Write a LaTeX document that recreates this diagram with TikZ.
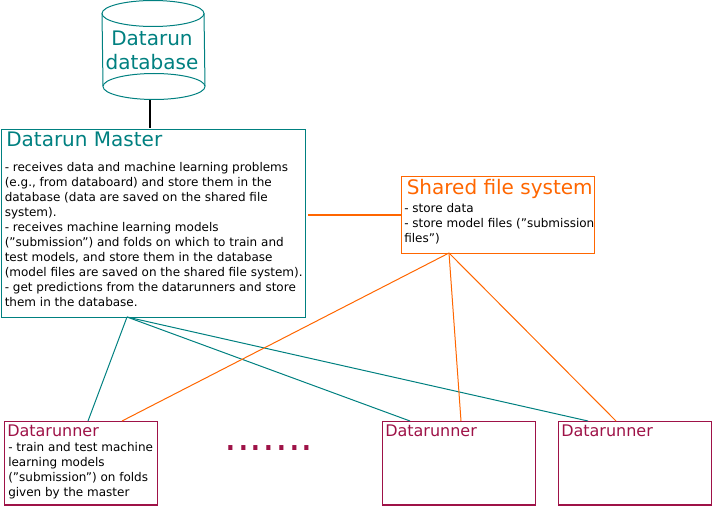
\documentclass[tikz,border=0pt]{standalone}
\usepackage{fontspec}
\setmainfont{DejaVu Sans}
\definecolor{masterteal}{rgb}{0,0.5,0.5}
\definecolor{sharedorange}{rgb}{1,0.4,0}
\definecolor{runnerred}{rgb}{0.62,0.07,0.28}
\tikzset{
  titletext/.style={anchor=north west,inner sep=0.75pt,font=\fontsize{15}{18}\selectfont},
  runnertitle/.style={anchor=north west,inner sep=0.75pt,text=runnerred,font=\fontsize{12}{14}\selectfont},
  bodytext/.style={anchor=north west,inner sep=0.75pt,align=left,font=\fontsize{9}{11.25}\selectfont},
  runnerbox/.style={draw=runnerred,line width=1.1pt,minimum width=114.5pt,minimum height=62.5pt,inner sep=0pt,anchor=north west},
}
\begin{document}
\begin{tikzpicture}[x=0.75pt,y=0.75pt,yscale=-1,xscale=1]
\useasboundingbox (0,0) rectangle (712,506);

%Database
\draw [masterteal,line width=0.75pt] (102,13.5) -- (103,86) (204,13.5) -- (205,86) ;
\draw [masterteal,line width=0.75pt] (153,13.5) ellipse [x radius=51, y radius=13] ;
\draw [masterteal,line width=0.75pt] (154,86.5) ellipse [x radius=51, y radius=13] ;
\node (database) [text=masterteal,align=center,inner sep=0.75pt,font=\fontsize{15}{18.5}\selectfont] at (152,50.5) {Datarun\\database};

%Boxes
\node (master) [draw=masterteal,line width=1.1pt,minimum width=228pt,minimum height=141pt,inner sep=0pt,anchor=north west] at (1,129) {};
\node (shared) [draw=sharedorange,line width=0.75pt,minimum width=144.5pt,minimum height=58pt,inner sep=0pt,anchor=north west] at (401,176) {};
\node (runnerA) [runnerbox] at (4,421) {};
\node (runnerB) [runnerbox] at (382,421) {};
\node (runnerC) [runnerbox] at (558,421) {};

%Connector ends
\coordinate (dbout) at (150,100);
\coordinate (dbin) at (150,128);
\coordinate (masterright) at (308,215);
\coordinate (sharedleft) at (401,215);
\coordinate (masterout) at (127,317);
\coordinate (sharedout) at (449,253);
\coordinate (runnerAm) at (88,421);
\coordinate (runnerAs) at (122,421);
\coordinate (runnerBm) at (410,421);
\coordinate (runnerBs) at (461,421);
\coordinate (runnerCm) at (588,421);
\coordinate (runnerCs) at (616,421);

%Straight Lines
\draw [line width=1.5pt] (dbout) -- (dbin) ;
\draw [sharedorange,line width=1.5pt] (masterright) -- (sharedleft) ;
\draw [masterteal,line width=0.75pt] (masterout) -- (runnerAm) ;
\draw [masterteal,line width=0.75pt] (masterout) -- (runnerBm) ;
\draw [masterteal,line width=0.75pt] (masterout) -- (runnerCm) ;
\draw [sharedorange,line width=0.75pt] (sharedout) -- (runnerAs) ;
\draw [sharedorange,line width=0.75pt] (sharedout) -- (runnerBs) ;
\draw [sharedorange,line width=0.75pt] (sharedout) -- (runnerCs) ;

% Text Node
\node (mastertitle) [titletext,text=masterteal] at (5,131) {Datarun Master};
% Text Node
\node (masterbody) [bodytext] at (3.5,161.5) {- receives data and machine learning problems\\(e.g., from databoard) and store them in the\\database (data are saved on the shared file\\system).\\- receives machine learning models\\("submission") and folds on which to train and\\test models, and store them in the database\\(model files are saved on the shared file system).\\- get predictions from the datarunners and store\\them in the database.};
% Text Node
\node (sharedtitle) [titletext,text=sharedorange,font=\fontsize{15}{18}\selectfont] at (405.5,178) {Shared file system};
% Text Node
\node (sharedbody) [bodytext] at (403,202.5) {- store data\\- store model files ("submission\\files")};
% Text Node
\node (runnerAtitle) [runnertitle] at (6,424) {Datarunner};
% Text Node
\node (runnerAbody) [bodytext] at (7,441.5) {- train and test machine\\learning models\\("submission") on folds\\given by the master};
% Text Node
\node (runnerBtitle) [runnertitle] at (384,424) {Datarunner};
% Text Node
\node (runnerCtitle) [runnertitle] at (560,424) {Datarunner};
% Text Node
\node (dots) [text=runnerred,inner sep=0.75pt,font=\fontsize{30}{30}\selectfont] at (269,448) {.......};
\end{tikzpicture}
\end{document}
